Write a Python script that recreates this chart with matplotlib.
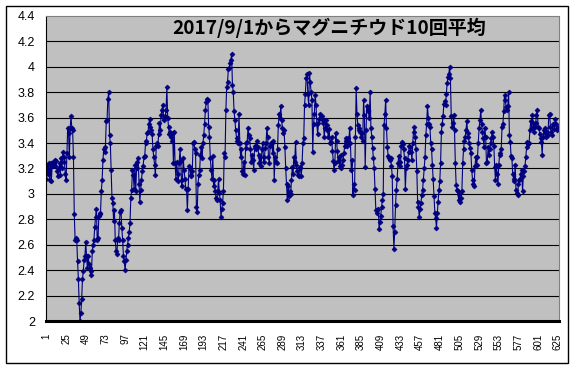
"""
マグニチウド10回平均の推移グラフ
"""
import numpy as np
import matplotlib.pyplot as plt
from matplotlib.patches import Rectangle

# グラフタイトルと軸ラベル
title = '2017/9/1からマグニチウド10回平均'
y_ticks = [2, 2.2, 2.4, 2.6, 2.8, 3, 3.2, 3.4, 3.6, 3.8, 4, 4.2, 4.4]
y_tick_labels = ['2', '2.2', '2.4', '2.6', '2.8', '3', '3.2', '3.4', '3.6', '3.8', '4', '4.2', '4.4']
x_tick_labels = [str(v) for v in range(1, 626, 24)]

# 10回平均値 (1行 = 24件)
mag_avg = [
    3.12, 3.23, 3.16, 3.24, 3.11, 3.24, 3.10, 3.22, 3.25, 3.23, 3.27, 3.22, 3.26, 3.18, 3.14, 3.20, 3.24, 3.15, 3.28, 3.20, 3.33, 3.29, 3.25, 3.16,
    3.11, 3.32, 3.52, 3.48, 3.29, 3.52, 3.61, 3.52, 3.50, 3.29, 2.84, 2.64, 2.65, 2.64, 2.47, 2.33, 2.14, 2.00, 2.06, 2.17, 2.33, 2.39, 2.48, 2.51,
    2.62, 2.51, 2.42, 2.51, 2.45, 2.42, 2.36, 2.39, 2.55, 2.60, 2.64, 2.74, 2.82, 2.88, 2.64, 2.65, 2.83, 2.84, 2.85, 3.02, 3.11, 3.27, 3.35, 3.33,
    3.37, 3.57, 3.58, 3.75, 3.80, 3.46, 3.40, 3.19, 2.97, 2.93, 2.79, 2.87, 2.64, 2.55, 2.53, 2.65, 2.64, 2.77, 2.86, 2.87, 2.73, 2.64, 2.51, 2.47,
    2.40, 2.48, 2.55, 2.60, 2.65, 2.70, 2.77, 2.97, 3.03, 3.19, 3.15, 3.04, 3.23, 3.02, 3.20, 3.25, 3.28, 3.08, 2.94, 3.03, 3.11, 3.18, 3.22, 3.29,
    3.30, 3.40, 3.42, 3.48, 3.49, 3.55, 3.59, 3.53, 3.50, 3.47, 3.35, 3.29, 3.23, 3.15, 3.38, 3.40, 3.38, 3.47, 3.56, 3.50, 3.62, 3.66, 3.70, 3.60,
    3.58, 3.61, 3.66, 3.84, 3.60, 3.53, 3.47, 3.49, 3.45, 3.42, 3.48, 3.24, 3.49, 3.24, 3.12, 3.25, 3.16, 3.10, 3.24, 3.35, 3.26, 3.06, 3.11, 3.28,
    3.19, 3.12, 3.04, 3.04, 2.87, 3.04, 3.22, 3.20, 3.15, 3.14, 3.18, 3.40, 3.41, 3.35, 3.32, 2.90, 2.86, 3.08, 3.15, 3.19, 3.31, 3.37, 3.28, 3.40,
    3.46, 3.55, 3.66, 3.72, 3.75, 3.74, 3.53, 3.45, 3.28, 3.19, 3.12, 3.30, 3.06, 3.11, 3.02, 2.97, 2.95, 3.02, 3.12, 3.01, 2.95, 2.82, 2.88, 2.93,
    3.02, 3.32, 3.29, 3.66, 3.84, 3.88, 3.98, 3.99, 4.03, 4.05, 4.10, 3.86, 3.80, 3.65, 3.58, 3.50, 3.44, 3.42, 3.40, 3.63, 3.40, 3.29, 3.35, 3.18,
    3.16, 3.25, 3.15, 3.36, 3.40, 3.41, 3.52, 3.46, 3.44, 3.35, 3.25, 3.31, 3.27, 3.19, 3.36, 3.38, 3.35, 3.42, 3.37, 3.31, 3.24, 3.29, 3.22, 3.35,
    3.40, 3.25, 3.29, 3.36, 3.40, 3.52, 3.45, 3.29, 3.24, 3.38, 3.40, 3.40, 3.32, 3.42, 3.11, 3.29, 3.25, 3.24, 3.35, 3.54, 3.63, 3.60, 3.69, 3.58,
    3.52, 3.48, 3.50, 3.37, 3.20, 3.08, 2.95, 3.06, 2.98, 3.02, 3.00, 3.11, 3.21, 3.16, 3.29, 3.25, 3.41, 3.23, 3.18, 3.15, 3.14, 3.21, 3.20, 3.14,
    3.24, 3.40, 3.44, 3.70, 3.79, 3.91, 3.94, 3.79, 3.70, 3.95, 3.88, 3.80, 3.74, 3.33, 3.55, 3.63, 3.78, 3.70, 3.55, 3.47, 3.56, 3.59, 3.63, 3.60,
    3.61, 3.58, 3.56, 3.45, 3.52, 3.58, 3.54, 3.50, 3.45, 3.51, 3.40, 3.41, 3.45, 3.34, 3.26, 3.19, 3.24, 3.48, 3.42, 3.34, 3.26, 3.29, 3.22, 3.31,
    3.20, 3.23, 3.27, 3.32, 3.38, 3.44, 3.42, 3.38, 3.44, 3.40, 3.52, 3.40, 3.19, 3.27, 2.99, 3.08, 3.03, 3.45, 3.83, 3.63, 3.54, 3.52, 3.50, 3.49,
    3.45, 3.48, 3.42, 3.74, 3.62, 3.21, 3.50, 3.69, 3.65, 3.66, 3.60, 3.80, 3.52, 3.45, 3.36, 3.28, 3.20, 3.04, 2.87, 2.87, 2.85, 2.88, 2.72, 2.78,
    2.83, 2.90, 2.95, 3.00, 3.54, 3.63, 3.74, 3.52, 3.37, 3.30, 3.28, 3.27, 3.28, 3.22, 3.14, 2.75, 2.57, 2.70, 2.91, 3.03, 3.12, 3.24, 3.30, 3.25,
    3.22, 3.38, 3.41, 3.39, 3.35, 3.28, 3.04, 3.20, 3.23, 3.27, 3.33, 3.38, 3.37, 3.33, 3.27, 3.40, 3.49, 3.53, 3.45, 3.35, 3.18, 2.94, 2.90, 2.82,
    2.88, 2.93, 2.99, 3.03, 3.11, 3.20, 3.29, 3.46, 3.55, 3.69, 3.60, 3.55, 3.53, 3.40, 3.35, 3.23, 3.12, 2.98, 2.85, 2.81, 2.73, 2.85, 2.94, 3.03,
    3.10, 3.24, 3.49, 3.55, 3.61, 3.71, 3.73, 3.70, 3.79, 3.87, 3.92, 3.94, 4.00, 3.91, 3.61, 3.53, 3.56, 3.62, 3.50, 3.24, 3.07, 3.03, 3.02, 2.95,
    3.00, 2.94, 2.97, 3.02, 3.24, 3.35, 3.42, 3.45, 3.50, 3.57, 3.48, 3.45, 3.40, 3.36, 3.32, 3.19, 3.11, 3.08, 3.06, 3.22, 3.29, 3.23, 3.29, 3.40,
    3.52, 3.58, 3.66, 3.55, 3.49, 3.44, 3.37, 3.52, 3.45, 3.24, 3.25, 3.37, 3.31, 3.35, 3.40, 3.44, 3.49, 3.45, 3.38, 3.21, 3.11, 3.23, 3.16, 3.08,
    3.23, 3.31, 3.32, 3.35, 3.53, 3.55, 3.65, 3.78, 3.74, 3.68, 3.66, 3.69, 3.80, 3.46, 3.41, 3.30, 3.28, 3.16, 3.12, 3.10, 3.23, 3.03, 3.01, 2.99,
    3.08, 3.11, 3.12, 3.16, 3.19, 3.02, 3.14, 3.18, 3.22, 3.29, 3.37, 3.41, 3.39, 3.40, 3.50, 3.57, 3.52, 3.62, 3.56, 3.49, 3.53, 3.56, 3.62, 3.66,
    3.53, 3.52, 3.47, 3.44, 3.41, 3.31, 3.45, 3.50, 3.48, 3.52, 3.45, 3.49, 3.46, 3.62, 3.63, 3.53, 3.49, 3.46, 3.55, 3.55, 3.51, 3.59, 3.55, 3.50,
    3.52, 3.53,
]

plt.rcParams['font.family'] = ['Liberation Sans', 'Noto Sans CJK JP', 'DejaVu Sans']

x = np.arange(1, len(mag_avg) + 1)

fig = plt.figure(figsize=(5.75, 3.69), dpi=100)
ax = fig.add_axes([46 / 575, 48 / 369, 513 / 575, 305 / 369])

# 外枠
fig.patches.append(Rectangle((6 / 575, 6 / 369), 562 / 575, 357 / 369,
                             transform=fig.transFigure, fill=False,
                             edgecolor='black', linewidth=1.0))

ax.set_facecolor('#C0C0C0')
ax.plot(x, mag_avg, color='#000080', linewidth=0.8,
        marker='D', markersize=2.5, markeredgewidth=0.5,
        markerfacecolor='#000080', markeredgecolor='#000080')

ax.set_xlim(0.5, len(mag_avg) + 0.5)
ax.set_ylim(2, 4.4)

# 目盛線 (黒)
for yv in y_ticks[1:-1]:
    ax.axhline(yv, color='black', linewidth=0.8, zorder=0.5)

ax.set_yticks(y_ticks)
ax.set_yticklabels(y_tick_labels, fontsize=9)
ax.set_xticks(list(range(1, 626, 24)))
ax.set_xticklabels(x_tick_labels, fontsize=7, rotation=90)
ax.tick_params(axis='both', length=0)
ax.tick_params(axis='y', pad=8)
ax.tick_params(axis='x', pad=9)

ax.spines['bottom'].set_linewidth(2.2)
ax.spines['bottom'].set_color('black')
ax.spines['left'].set_color('black')
ax.spines['left'].set_linewidth(0.8)
ax.spines['top'].set_color('#808080')
ax.spines['right'].set_color('#808080')

fig.text(329 / 575, 1 - 28 / 369, title, ha='center', va='center',
         fontsize=13.7, fontweight='bold',
         family=['Noto Sans CJK JP', 'DejaVu Sans'])

plt.savefig('out.png', dpi=100)
